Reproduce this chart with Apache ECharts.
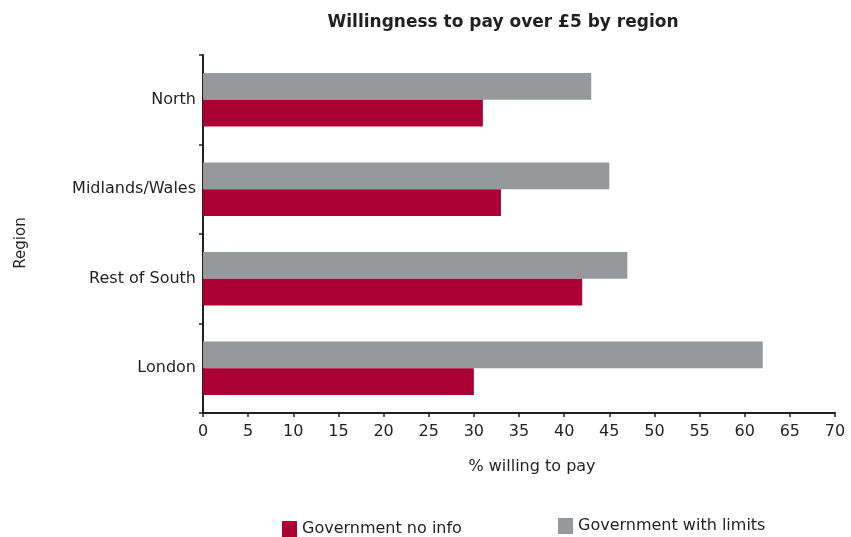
<!DOCTYPE html>
<html>
<head>
<meta charset="utf-8">
<script src="https://cdn.jsdelivr.net/npm/echarts@6/dist/echarts.min.js"></script>
<style>
  html, body { margin: 0; padding: 0; background: #ffffff; }
  #chart { width: 851px; height: 537px; }
</style>
</head>
<body>
<div id="chart"></div>
<script>
// Regions listed bottom-to-top as the category axis draws them
const regions = ['London', 'Rest of South', 'Midlands/Wales', 'North'];
const noInfo = [30, 42, 33, 31];
const withLimits = [62, 47, 45, 43];
const xTicks = [0, 5, 10, 15, 20, 25, 30, 35, 40, 45, 50, 55, 60, 65, 70];

const FONT = '"DejaVu Sans", "Noto Sans", sans-serif';
const INK = '#231f20';
const RED = '#ab0034';
const GREY = '#97989c';

const chart = echarts.init(document.getElementById('chart'), null, { renderer: 'canvas' });

chart.setOption({
  animation: false,
  backgroundColor: '#ffffff',
  title: {
    text: 'Willingness to pay over £5 by region',
    left: 498,
    top: 9,
    textAlign: 'center',
    textStyle: { fontFamily: FONT, fontWeight: 'bold', fontSize: 17, color: INK }
  },
  legend: [
    {
      data: ['Government no info'],
      left: 277, top: 516,
      itemWidth: 15, itemHeight: 16, itemGap: 5,
      icon: 'rect',
      textStyle: { fontFamily: FONT, fontSize: 16, color: INK }
    },
    {
      data: ['Government with limits'],
      left: 553, top: 513,
      itemWidth: 15, itemHeight: 16, itemGap: 5,
      icon: 'rect',
      textStyle: { fontFamily: FONT, fontSize: 16, color: INK }
    }
  ],
  grid: { left: 203, right: 16, top: 55, bottom: 124, containLabel: false },
  xAxis: {
    type: 'value',
    min: xTicks[0],
    max: xTicks[xTicks.length - 1],
    interval: xTicks[1] - xTicks[0],
    splitLine: { show: false },
    axisLine: { show: true, lineStyle: { color: INK, width: 2 } },
    axisTick: { show: true, length: 4, lineStyle: { color: INK, width: 1.5 } },
    axisLabel: { fontFamily: FONT, fontSize: 16, color: INK, margin: 11 }
  },
  yAxis: {
    type: 'category',
    data: regions,
    axisLine: { show: true, lineStyle: { color: INK, width: 2 } },
    axisTick: { show: true, length: 4, lineStyle: { color: INK, width: 1.5 } },
    axisLabel: { fontFamily: FONT, fontSize: 16, color: INK, margin: 7 }
  },
  graphic: [
    {
      type: 'text',
      x: 21, y: 243,
      rotation: Math.PI / 2,
      style: {
        text: 'Region', fontFamily: FONT, fontSize: 15, fill: INK,
        textAlign: 'center', textVerticalAlign: 'middle'
      }
    },
    {
      type: 'text',
      x: 532, y: 467,
      style: {
        text: '% willing to pay', fontFamily: FONT, fontSize: 16, fill: INK,
        textAlign: 'center', textVerticalAlign: 'middle'
      }
    }
  ],
  // The grey series is listed first so its bar sits above the red one in each band
  series: [
    {
      name: 'Government with limits',
      type: 'bar',
      data: withLimits,
      itemStyle: { color: GREY },
      barGap: '0%',
      barCategoryGap: '40%'
    },
    {
      name: 'Government no info',
      type: 'bar',
      data: noInfo,
      itemStyle: { color: RED },
      barGap: '0%',
      barCategoryGap: '40%'
    }
  ]
});
</script>
</body>
</html>
